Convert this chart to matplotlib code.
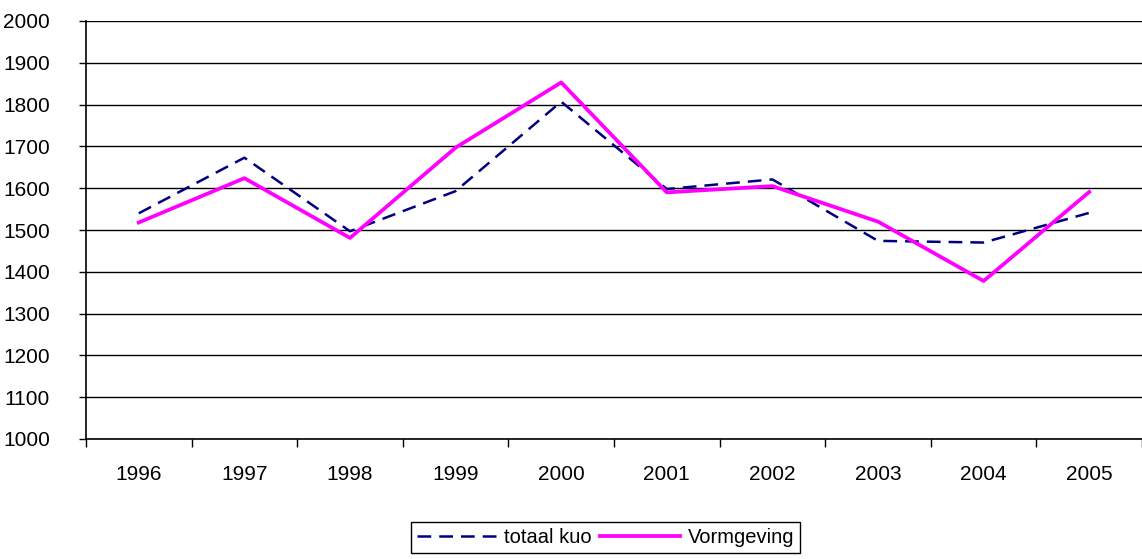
import numpy as np
import matplotlib
matplotlib.use('Agg')
import matplotlib.pyplot as plt

plt.rcParams['font.family'] = ['Liberation Sans', 'DejaVu Sans']

# data
years = ['1996', '1997', '1998', '1999', '2000', '2001', '2002', '2003', '2004', '2005']
totaal_kuo = [1540, 1673, 1497, 1593, 1807, 1598, 1621, 1474, 1470, 1541]
vormgeving = [1518, 1624, 1481, 1697, 1853, 1590, 1605, 1520, 1378, 1591]
yticks = list(range(1000, 2001, 100))

fig = plt.figure(figsize=(11.42, 5.59), dpi=100)
ax = fig.add_axes([86 / 1142, 120 / 559, 1056 / 1142, 418 / 559])

x = np.arange(len(years))
ax.plot(x, totaal_kuo, color='#000080', lw=1.8, dashes=(5.5, 3.2), label='totaal kuo')
ax.plot(x, vormgeving, color='#ff00ff', lw=2.7, label='Vormgeving')

ax.set_xlim(-0.5, len(years) - 0.5)
ax.set_ylim(1000, 2000)
ax.set_yticks(yticks)
ax.yaxis.grid(True, color='black', lw=1)
ax.set_axisbelow(True)
ax.tick_params(axis='y', length=5, width=1, pad=21, labelsize=15)

# ticks on category boundaries, labels at centres
ax.set_xticks(np.arange(-0.5, len(years)), labels=[''] * (len(years) + 1))
ax.set_xticks(x, labels=years, minor=True)
ax.tick_params(axis='x', which='major', length=6, width=1)
ax.tick_params(axis='x', which='minor', length=0, pad=19, labelsize=15)

for s in ['top', 'right']:
    ax.spines[s].set_visible(False)
for s in ['left', 'bottom']:
    ax.spines[s].set_linewidth(1.2)

leg = fig.legend(loc='lower center', bbox_to_anchor=(0.53, 0.011), ncol=2,
                 fancybox=False, edgecolor='black', framealpha=1, fontsize=14.5,
                 handlelength=4.0, handletextpad=0.35, columnspacing=0.4,
                 borderpad=0.3, borderaxespad=0)
leg.get_frame().set_linewidth(1)

fig.savefig('out.png', dpi=100)
